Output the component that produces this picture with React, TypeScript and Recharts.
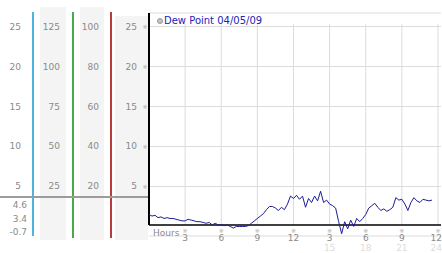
import {
  LineChart,
  Line,
  XAxis,
  YAxis,
  CartesianGrid,
  ReferenceLine,
  Legend,
} from "recharts";

// sample times (hours since midnight) and dew point readings
const hours = [
  0, 0.25, 0.5, 0.75, 1, 1.25, 1.5, 1.75, 2, 2.25, 2.5, 2.75,
  3, 3.25, 3.5, 3.75, 4, 4.25, 4.5, 4.75, 5, 5.25, 5.5, 5.75,
  6, 6.25, 6.5, 6.75, 7, 7.25, 7.5, 7.75, 8, 8.25, 8.5, 8.75,
  9, 9.25, 9.5, 9.75, 10, 10.25, 10.5, 10.75, 11, 11.25, 11.5, 11.75,
  12, 12.25, 12.5, 12.75, 13, 13.25, 13.5, 13.75, 14, 14.25, 14.5, 14.75,
  15, 15.25, 15.5, 15.75, 16, 16.25, 16.5, 16.75, 17, 17.25, 17.5, 17.75,
  18, 18.25, 18.5, 18.75, 19, 19.25, 19.5, 19.75, 20, 20.25, 20.5, 20.75,
  21, 21.25, 21.5, 21.75, 22, 22.25, 22.5, 22.75, 23, 23.25, 23.5,
];
const dewPoint = [
  1.5, 1.3, 1.4, 1.1, 1.2, 1.0, 1.1, 1.0, 1.0, 0.9, 0.8, 0.7,
  0.7, 0.9, 0.8, 0.7, 0.6, 0.6, 0.5, 0.4, 0.5, 0.2, 0.4, 0.2,
  0.2, 0.1, 0.2, 0.0, -0.2, 0.0, 0.0, 0.0, 0.0, 0.1, 0.4, 0.7,
  1.0, 1.3, 1.6, 2.1, 2.5, 2.5, 2.3, 2.0, 2.4, 2.1, 2.8, 3.8,
  3.5, 3.9, 3.4, 3.8, 2.4, 3.5, 3.0, 3.8, 3.2, 4.4, 3.0, 3.3,
  2.8, 2.6, 2.3, 0.6, -0.9, 0.6, -0.3, 0.8, 0.0, 1.0, 0.6, 1.0,
  1.5, 2.3, 2.6, 2.9, 2.4, 2.0, 2.2, 1.9, 2.1, 2.4, 3.6, 3.3,
  3.4, 2.8, 2.0, 3.0, 3.6, 3.2, 3.0, 3.4, 3.3, 3.2, 3.3,
];

const xTicks = [0, 3, 6, 9, 12, 15, 18, 21, 24];
const xTickLabels = ["Hours", "3", "6", "9", "12", "3", "6", "9", "12"];
const xTickLabels24 = ["", "", "", "", "", "15", "18", "21", "24"];

const yTicks = [5, 10, 15, 20, 25];
const celsiusLabels = ["5", "10", "15", "20", "25"];
const col1Labels = ["25", "50", "75", "100", "125"];
const col2Labels = ["20", "40", "60", "80", "100"];
const col3Labels = ["5", "10", "15", "20", "25"];

const summaryValues = ["4.6", "3.4", "-0.7"];
const seriesName = "Dew Point 04/05/09";

const FONT = "'DejaVu Sans', Verdana, sans-serif";
const LABEL = "#8a8a8a";
const Y_DOMAIN = [-1.19, 26.69];

const data = hours.map((h, i) => ({ hour: h, dew: dewPoint[i] }));

const makeYTick = (labels: string[], mark: boolean) => (props: any) => {
  const { x, y, payload } = props;
  const i = yTicks.indexOf(payload.value);
  return (
    <g>
      <text x={x - 12} y={y} textAnchor="end" dominantBaseline="central" fontSize={9} fontFamily={FONT} fill={LABEL}>
        {labels[i]}
      </text>
      {mark && (
        <text x={x - 4} y={y} textAnchor="middle" dominantBaseline="central" fontSize={6} fontFamily={FONT} fill="#aaa">
          ※
        </text>
      )}
    </g>
  );
};

const XTick = (props: any) => {
  const { x, y, payload } = props;
  const i = xTicks.indexOf(payload.value);
  if (i === 0) {
    return (
      <text x={x + 4} y={y} fontSize={9} fontFamily={FONT} fill={LABEL}>
        {xTickLabels[0]}
      </text>
    );
  }
  const last = i === xTicks.length - 1;
  const tx = last ? x + 4 : x;
  const anchor = last ? "end" : "middle";
  return (
    <g>
      <text x={x} y={y - 5.5} textAnchor="middle" dominantBaseline="central" fontSize={6} fontFamily={FONT} fill="#aaa">
        ※
      </text>
      <text x={tx} y={y + 5} textAnchor={anchor} fontSize={9} fontFamily={FONT} fill={LABEL}>
        {xTickLabels[i]}
      </text>
      <text x={tx} y={y + 15} textAnchor={anchor} fontSize={9} fontFamily={FONT} fill="#dcdcdc">
        {xTickLabels24[i]}
      </text>
    </g>
  );
};

const LegendContent = (props: any) => {
  const item = props.payload?.[0];
  return (
    <div style={{ display: "flex", alignItems: "center", fontFamily: FONT, fontSize: 10, lineHeight: "12px" }}>
      <span
        style={{
          display: "inline-block",
          width: 4,
          height: 4,
          borderRadius: 3,
          background: "#c4c4c4",
          border: "1px solid #999",
          marginRight: 1,
        }}
      />
      <span style={{ color: "#2323b8" }}>{item?.value ?? seriesName}</span>
    </div>
  );
};

const box = (left: number, top: number, width: number, height: number, background: string) => (
  <div style={{ position: "absolute", left, top, width, height, background }} />
);

const axisCommon = {
  domain: Y_DOMAIN,
  allowDataOverflow: true,
  ticks: yTicks,
  interval: 0 as const,
  axisLine: false,
  tickLine: false,
  tickSize: 0,
  tickMargin: 0,
};

export default function App() {
  return (
    <div style={{ position: "absolute", left: 0, top: 0, width: 442, height: 253, background: "#fff", overflow: "hidden" }}>
      {box(40, 7, 26, 233, "#f4f4f4")}
      {box(80, 7, 24, 233, "#f4f4f4")}
      {box(115, 16, 33, 224, "#f4f4f4")}
      {box(32, 12, 2, 224, "#4db4dc")}
      {box(72, 12, 2, 226, "#46ac46")}
      {box(110, 12, 2, 226, "#b83c3c")}
      {box(0, 196, 149, 2, "#9c9c9c")}
      {summaryValues.map((v, i) => (
        <div
          key={v}
          style={{
            position: "absolute",
            left: 0,
            top: 200 + i * 13.5,
            width: 27,
            textAlign: "right",
            fontFamily: FONT,
            fontSize: 9,
            lineHeight: "10px",
            color: LABEL,
          }}
        >
          {v}
        </div>
      ))}
      <div style={{ position: "absolute", left: 0, top: 0 }}>
        <LineChart width={442} height={253} data={data} margin={{ top: 13, right: 1, bottom: 0, left: 0 }}>
          <CartesianGrid vertical={false} stroke="#dcdcdc" />
          <XAxis
            type="number"
            dataKey="hour"
            domain={[0, 24.25]}
            ticks={xTicks}
            interval={0}
            height={17}
            axisLine={false}
            tickLine={false}
            tickSize={0}
            tickMargin={0}
            tick={<XTick />}
          />
          {/* left axes, nearest the plot first (ids sort alphabetically) */}
          <YAxis {...axisCommon} width={38} tick={makeYTick(col3Labels, true)} />
          <YAxis {...axisCommon} yAxisId="a" width={39} tick={makeYTick(col2Labels, false)} />
          <YAxis {...axisCommon} yAxisId="b" width={39} tick={makeYTick(col1Labels, false)} />
          <YAxis {...axisCommon} yAxisId="c" width={33} tick={makeYTick(celsiusLabels, false)} />
          {xTicks.slice(1).map((h) => (
            <ReferenceLine
              key={h}
              segment={[
                { x: h, y: 0.2 },
                { x: h, y: 25.3 },
              ]}
              stroke="#dcdcdc"
            />
          ))}
          <ReferenceLine
            segment={[
              { x: 0, y: 0.2 },
              { x: 24.25, y: 0.2 },
            ]}
            stroke="#000"
            strokeWidth={1.5}
          />
          <ReferenceLine
            segment={[
              { x: 0, y: 0.2 },
              { x: 0, y: 26.69 },
            ]}
            stroke="#000"
            strokeWidth={2}
          />
          <Legend
            layout="horizontal"
            verticalAlign="middle"
            align="center"
            wrapperStyle={{ left: 157, top: 15, width: "auto" }}
            content={<LegendContent />}
          />
          <Line
            type="linear"
            dataKey="dew"
            name={seriesName}
            stroke="#1c1c96"
            strokeWidth={1}
            dot={false}
            isAnimationActive={false}
          />
        </LineChart>
      </div>
    </div>
  );
}
